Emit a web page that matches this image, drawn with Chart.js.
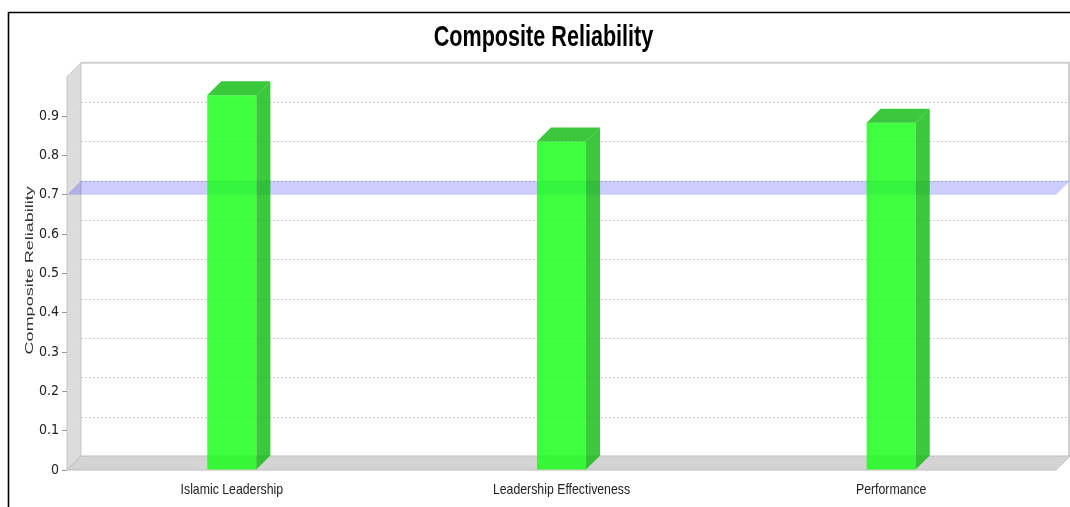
<!DOCTYPE html>
<html>
<head>
<meta charset="utf-8">
<script src="https://cdn.jsdelivr.net/npm/chart.js@4.4.1/dist/chart.umd.min.js"></script>
<style>
  html, body { margin: 0; padding: 0; background: #fff; overflow: hidden; }
  #wrap { position: relative; width: 1070px; height: 507px; }
</style>
</head>
<body>
<div id="wrap"><canvas id="c" width="1070" height="507"></canvas></div>
<script>
// Composite reliability per construct, with the 0.7 acceptance threshold
const categories = ['Islamic Leadership', 'Leadership Effectiveness', 'Performance'];
const reliability = [0.953, 0.835, 0.883];
const threshold = 0.7;
const axisMin = 0;
const axisMax = 1.0;
const axisStep = 0.1;
const chartTitle = 'Composite Reliability';
const yAxisTitle = 'Composite Reliability';

const SANS = "'Liberation Sans', Arial, sans-serif";
const DEPTH_X = 14;   // 3D depth offset (px)
const DEPTH_Y = 14;

function poly(ctx, pts) {
  ctx.beginPath();
  ctx.moveTo(pts[0][0], pts[0][1]);
  for (let i = 1; i < pts.length; i++) ctx.lineTo(pts[i][0], pts[i][1]);
  ctx.closePath();
}

// Text drawn with a horizontal squeeze (condensed look)
function squeezedText(ctx, text, x, y, font, sx, color, baseline) {
  ctx.save();
  ctx.translate(x, y);
  ctx.scale(sx, 1);
  ctx.font = font;
  ctx.fillStyle = color;
  ctx.textAlign = 'center';
  ctx.textBaseline = baseline || 'alphabetic';
  ctx.fillText(text, 0, 0);
  ctx.restore();
}

// Walls, floor, grid, threshold plane, bar faces and text for the 3D look
const scene3d = {
  id: 'scene3d',
  beforeDraw(chart) {
    const ctx = chart.ctx, a = chart.chartArea, ys = chart.scales.y;
    const y0 = ys.getPixelForValue(axisMin), yTop = ys.getPixelForValue(axisMax);
    ctx.save();
    // outer frame
    ctx.strokeStyle = '#000';
    ctx.lineWidth = 1.6;
    ctx.beginPath();
    ctx.moveTo(8.5, 507); ctx.lineTo(8.5, 12.5); ctx.lineTo(1070, 12.5);
    ctx.stroke();

    // back wall border
    ctx.strokeStyle = '#cfcfcf';
    ctx.lineWidth = 2;
    ctx.beginPath();
    ctx.moveTo(a.left + DEPTH_X, yTop - DEPTH_Y);
    ctx.lineTo(a.right + DEPTH_X - 1, yTop - DEPTH_Y);
    ctx.lineTo(a.right + DEPTH_X - 1, y0 - DEPTH_Y);
    ctx.stroke();

    // left wall
    poly(ctx, [[a.left, yTop], [a.left + DEPTH_X, yTop - DEPTH_Y], [a.left + DEPTH_X, y0 - DEPTH_Y], [a.left, y0]]);
    ctx.fillStyle = '#dcdcdc';
    ctx.fill();
    ctx.strokeStyle = '#c6c6c6';
    ctx.lineWidth = 1;
    ctx.stroke();

    // gridlines on the back wall and across the side wall
    ctx.lineWidth = 1;
    ctx.setLineDash([2, 2]);
    for (let v = axisMin + axisStep; v < axisMax - 1e-6; v += axisStep) {
      const yy = Math.round(ys.getPixelForValue(v)) + 0.5;
      ctx.strokeStyle = '#cccccc';
      ctx.beginPath();
      ctx.moveTo(a.left + DEPTH_X, yy - DEPTH_Y);
      ctx.lineTo(a.right + DEPTH_X, yy - DEPTH_Y);
      ctx.stroke();
      ctx.strokeStyle = '#e8e8e8';
      ctx.beginPath();
      ctx.moveTo(a.left, yy);
      ctx.lineTo(a.left + DEPTH_X, yy - DEPTH_Y);
      ctx.stroke();
    }
    ctx.setLineDash([]);

    // floor
    poly(ctx, [[a.left, y0], [a.left + DEPTH_X, y0 - DEPTH_Y], [a.right + DEPTH_X, y0 - DEPTH_Y], [a.right, y0]]);
    ctx.fillStyle = '#d4d4d4';
    ctx.fill();
    ctx.strokeStyle = '#bdbdbd';
    ctx.stroke();
    ctx.restore();
  },
  beforeDatasetsDraw(chart) {
    const ctx = chart.ctx, a = chart.chartArea, ys = chart.scales.y;
    const yy = ys.getPixelForValue(threshold);
    ctx.save();
    poly(ctx, [[a.left, yy], [a.left + DEPTH_X, yy - DEPTH_Y], [a.right + DEPTH_X, yy - DEPTH_Y], [a.right, yy]]);
    ctx.fillStyle = 'rgba(0,0,255,0.2)';
    ctx.fill();
    ctx.restore();
  },
  afterDatasetsDraw(chart) {
    const ctx = chart.ctx;
    const meta = chart.getDatasetMeta(0);
    ctx.save();
    ctx.fillStyle = 'rgba(11,186,11,0.8)';
    meta.data.forEach(el => {
      const p = el.getProps(['x', 'y', 'base', 'width'], true);
      const l = p.x - p.width / 2, r = p.x + p.width / 2;
      // top face
      poly(ctx, [[l, p.y], [l + DEPTH_X, p.y - DEPTH_Y], [r + DEPTH_X, p.y - DEPTH_Y], [r, p.y]]);
      ctx.fill();
      // side face
      poly(ctx, [[r, p.y], [r + DEPTH_X, p.y - DEPTH_Y], [r + DEPTH_X, p.base - DEPTH_Y], [r, p.base]]);
      ctx.fill();
    });
    ctx.restore();
  },
  afterDraw(chart) {
    const ctx = chart.ctx, a = chart.chartArea, xs = chart.scales.x;
    // chart title
    squeezedText(ctx, chartTitle, 543.5, 46, "bold 30px " + SANS, 0.72, '#000');
    // category labels
    categories.forEach((c, i) => {
      squeezedText(ctx, c, xs.getPixelForValue(i), a.bottom + 24, "15px " + SANS, 0.82, '#222');
    });
    // vertical axis title
    ctx.save();
    ctx.translate(30, (a.top + a.bottom) / 2 - 3);
    ctx.scale(0.62, 1);
    ctx.rotate(-Math.PI / 2);
    ctx.font = "18px " + SANS;
    ctx.fillStyle = '#333';
    ctx.textAlign = 'center';
    ctx.textBaseline = 'middle';
    ctx.fillText(yAxisTitle, 0, 0);
    ctx.restore();
  }
};

new Chart(document.getElementById('c'), {
  type: 'bar',
  data: {
    labels: categories,
    datasets: [{
      data: reliability,
      backgroundColor: 'rgba(16,255,16,0.8)',
      borderWidth: 0,
      categoryPercentage: 1,
      barPercentage: 0.149
    }]
  },
  options: {
    responsive: false,
    animation: false,
    events: [],
    layout: { padding: { left: 31, right: 14, top: 76.7, bottom: 0 } },
    plugins: {
      legend: { display: false },
      tooltip: { enabled: false },
      title: { display: false }
    },
    scales: {
      x: {
        grid: { display: false, drawTicks: false },
        border: { display: false },
        ticks: { display: false },
        afterFit(s) { s.height = 37; }
      },
      y: {
        min: axisMin,
        max: axisMax,
        ticks: {
          stepSize: axisStep,
          font: { family: "'DejaVu Sans Condensed', sans-serif", size: 14 },
          color: '#222',
          padding: 3,
          callback: v => (v > axisMax - 1e-6 ? '' : String(Math.round(v * 10) / 10))
        },
        grid: {
          drawOnChartArea: false,
          tickLength: 5,
          color: c => (c.tick && c.tick.value > axisMax - 1e-6 ? 'rgba(0,0,0,0)' : '#999')
        },
        border: { display: false },
        afterFit(s) { s.width = 36; }
      }
    }
  },
  plugins: [scene3d]
});
</script>
</body>
</html>
